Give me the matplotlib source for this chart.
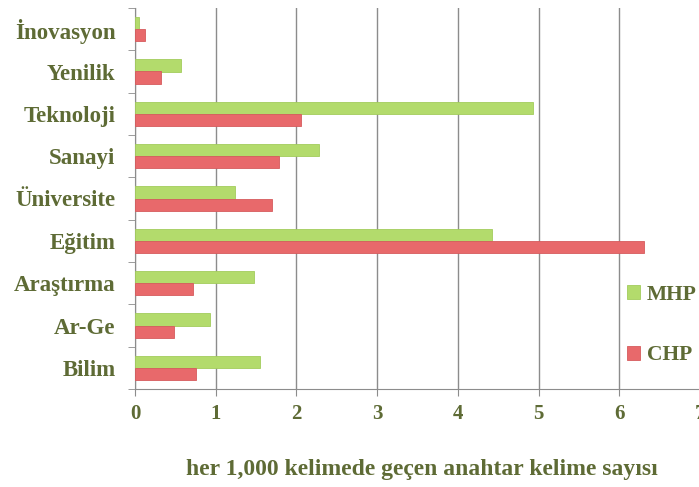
import numpy as np
import matplotlib.pyplot as plt

# data (bottom -> top)
categories = ['Bilim', 'Ar-Ge', 'Araştırma', 'Eğitim', 'Üniversite',
              'Sanayi', 'Teknoloji', 'Yenilik', 'İnovasyon']
mhp = [1.55, 0.93, 1.47, 4.42, 1.24, 2.28, 4.93, 0.57, 0.05]
chp = [0.75, 0.48, 0.72, 6.31, 1.70, 1.78, 2.06, 0.32, 0.12]
xticks = [0, 1, 2, 3, 4, 5, 6, 7]

text_col = '#5e6b35'
green = '#b3db6c'
red = '#e8696b'
grid_col = '#8c8c8c'

plt.rcParams['font.family'] = ['Liberation Serif', 'DejaVu Serif']
plt.rcParams['font.weight'] = 'bold'

fig = plt.figure(figsize=(6.99, 4.87), dpi=100)
ax = fig.add_axes([135/699, 1-389/487, 565/699, 381/487])

y = np.arange(len(categories))
h = 0.29
ax.barh(y + h/2, mhp, height=h, color=green, edgecolor='#a3cc5c', linewidth=0.6,
        label='MHP', zorder=3)
ax.barh(y - h/2, chp, height=h, color=red, edgecolor='#d65b5d', linewidth=0.6,
        label='CHP', zorder=3)

ax.set_xlim(0, 7)
ax.set_ylim(-0.5, len(categories) - 0.5)
ax.set_xticks(xticks)
ax.set_xticklabels([str(t) for t in xticks], color=text_col, fontsize=15,
                   fontweight='bold')
ax.tick_params(axis='x', length=5, color=grid_col, pad=6)

ax.set_yticks(y)
ax.set_yticklabels(categories, color=text_col, fontsize=16.5, fontweight='bold')
ax.set_yticks(np.arange(len(categories) + 1) - 0.5, minor=True)
ax.tick_params(axis='y', which='major', length=0, pad=14)
ax.tick_params(axis='y', which='minor', length=5, color=grid_col)

ax.grid(axis='x', color=grid_col, linewidth=1, zorder=0)
for s in ['top', 'right']:
    ax.spines[s].set_visible(False)
for s in ['left', 'bottom']:
    ax.spines[s].set_color(grid_col)

ax.set_xlabel('her 1,000 kelimede geçen anahtar kelime sayısı', color=text_col,
              fontsize=17, fontweight='bold')
ax.xaxis.set_label_coords(0.507, -0.185)

leg = fig.legend(loc='center left', bbox_to_anchor=(608/699, 1-325/487),
                 frameon=False, handlelength=0.6, handleheight=0.6,
                 handletextpad=0.3, labelspacing=1.9, fontsize=15.5)
for t in leg.get_texts():
    t.set_color(text_col)
    t.set_fontweight('bold')

fig.savefig('out.png', dpi=100)
